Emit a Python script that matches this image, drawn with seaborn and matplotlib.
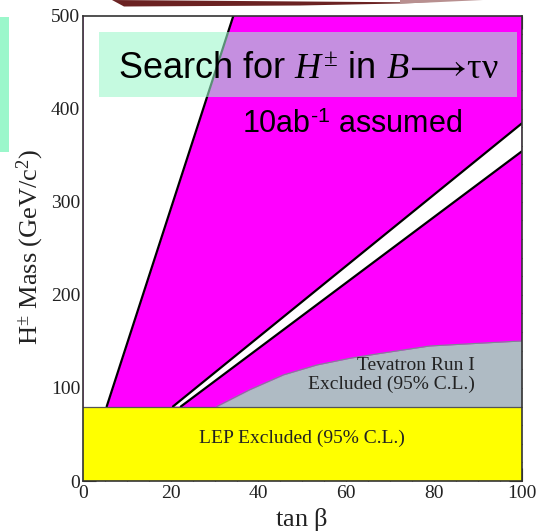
import numpy as np
import pandas as pd
import matplotlib
matplotlib.use("Agg")
import matplotlib.pyplot as plt
import seaborn as sns
from matplotlib.patches import Rectangle, Polygon
from matplotlib.ticker import MultipleLocator

# ---------------- data ----------------
lep_limit = 80            # LEP excluded below this mass
mass_max = 500
tanb_max = 100

left_tanb = [5.4, 34.3]   # left edge of the B->tau nu excluded region
left_mass = [80, 500]

band_up_tanb = [20.5, 100]   # allowed (white) band, upper edge
band_up_mass = [80, 384]
band_lo_tanb = [22.3, 100]   # allowed (white) band, lower edge
band_lo_mass = [80, 354]

tev_tanb = [30.5, 38, 45.7, 53.3, 61, 67.7, 79, 90.5, 100]   # Tevatron Run I limit
tev_mass = [80, 98, 114, 124.6, 132, 137, 145, 148, 150.4]

x_ticks = [0, 20, 40, 60, 80, 100]
y_ticks = [0, 100, 200, 300, 400, 500]

# ---------------- style ----------------
sns.set_theme(style="ticks")
plt.rcParams["font.family"] = ["Liberation Serif", "DejaVu Serif"]
plt.rcParams["mathtext.fontset"] = "custom"
plt.rcParams["mathtext.rm"] = "Liberation Serif"
plt.rcParams["mathtext.it"] = "Liberation Serif:italic"
plt.rcParams["mathtext.sf"] = "Liberation Sans"
plt.rcParams["mathtext.fallback"] = "stixsans"

W, H = 537, 532
fig = plt.figure(figsize=(W / 100, H / 100), dpi=100)
fig.patch.set_facecolor("white")
ax = fig.add_axes([83 / W, 1 - 481 / H, (521.7 - 83) / W, (481 - 15.5) / H])
ax.set_facecolor("white")

MAGENTA = "#ff00ff"
GRAY = "#afbbc4"
YELLOW = "#ffff00"

# excluded by B->tau nu (whole area above LEP), then carve out allowed regions
ax.fill_between([0, tanb_max], lep_limit, mass_max, color=MAGENTA, lw=0, zorder=1)
ax.fill_betweenx(left_mass, 0, left_tanb, color="white", lw=0, zorder=1.1)
ax.fill(band_up_tanb + band_lo_tanb[::-1], band_up_mass + band_lo_mass[::-1],
        color="white", lw=0, zorder=1.1)
ax.fill_between(tev_tanb, lep_limit, tev_mass, color=GRAY, lw=0, zorder=1.2)
ax.fill_between([0, tanb_max], 0, lep_limit, color=YELLOW, lw=0, zorder=1.3)

lines = pd.DataFrame({
    "tanb": left_tanb + band_up_tanb + band_lo_tanb,
    "mass": left_mass + band_up_mass + band_lo_mass,
    "curve": ["left"] * 2 + ["up"] * 2 + ["lo"] * 2,
})
sns.lineplot(data=lines, x="tanb", y="mass", units="curve", estimator=None,
             color="black", lw=1.6, ax=ax, legend=False, zorder=1.5)
sns.lineplot(x=tev_tanb, y=tev_mass, color="#7d8892", lw=0.8, ax=ax,
             legend=False, zorder=1.5)
ax.axhline(lep_limit, color="#555555", lw=0.9, zorder=1.5)

ax.set_xlim(0, tanb_max)
ax.set_ylim(0, mass_max)
ax.set_xticks(x_ticks)
ax.set_yticks(y_ticks)
ax.xaxis.set_minor_locator(MultipleLocator(5))
ax.yaxis.set_minor_locator(MultipleLocator(20))
ax.tick_params(which="both", direction="in", top=True, right=True,
               colors="#333333", labelcolor="#222222", width=0.8)
ax.tick_params(which="major", length=9.5, labelsize=14)
ax.tick_params(which="minor", length=4.5)
ax.tick_params(axis="x", pad=3)
ax.tick_params(axis="y", pad=2)
for s in ax.spines.values():
    s.set_color("#333333")
    s.set_linewidth(1.2)
ax.set_xlabel("")
ax.set_ylabel("")

ax.text(89.4, 113.5, "Tevatron Run I\nExcluded (95% C.L.)", ha="right", va="center",
        multialignment="right", fontsize=14, color="#222222", linespacing=1.15,
        zorder=3)
ax.text(49.9, 46, "LEP Excluded (95% C.L.)", ha="center", va="center",
        fontsize=14, color="#222222", zorder=3)

# axis titles
fig.text(30 / W, 1 - 247 / H, r"H$^{\pm}$ Mass (GeV/c$^{2}$)", rotation=90,
         ha="center", va="center", fontsize=19, color="#222222")
fig.text(302 / W, 1 - 526 / H, r"tan $\mathrm{\beta}$", ha="center", va="baseline",
         fontsize=19, color="#222222")

# slide overlays
mint = (155 / 255, 247 / 255, 203 / 255)
fig.patches.append(Rectangle((99 / W, 1 - 96.7 / H), (517 - 99) / W, (96.7 - 32.3) / H,
                             transform=fig.transFigure, facecolor=mint, alpha=0.58,
                             lw=0, zorder=5))
fig.patches.append(Rectangle((0, 1 - 151.7 / H), 9 / W, (151.7 - 16.7) / H,
                             transform=fig.transFigure, facecolor=mint, lw=0, zorder=5))
tab = [(112, 0), (124, 6.5), (300, 5.5), (400, 3.5), (430, 2.5), (112, 0)]
fig.patches.append(Polygon([(x / W, 1 - y / H) for x, y in tab], closed=True,
                           transform=fig.transFigure, facecolor="#6b2222", lw=0, zorder=5))
fade = [(400, 0), (400, 3.5), (430, 2.5), (483, 0)]
fig.patches.append(Polygon([(x / W, 1 - y / H) for x, y in fade], closed=True,
                           transform=fig.transFigure, facecolor="#b89090", lw=0, zorder=5))

fig.text(308.5 / W, 1 - 78.3 / H,
         r"Search for $H^{\pm}$ in $B\!\longrightarrow\!\mathrm{\tau\nu}$",
         ha="center", va="baseline", fontsize=26, color="black",
         family=["Liberation Sans", "DejaVu Sans"], zorder=6)
fig.text(352.5 / W, 1 - 133.3 / H, r"10ab$^{\mathsf{‐1}}$ assumed",
         ha="center", va="baseline", fontsize=22, color="black",
         family=["Liberation Sans", "DejaVu Sans"], zorder=6)

fig.savefig("out.png", dpi=100)
